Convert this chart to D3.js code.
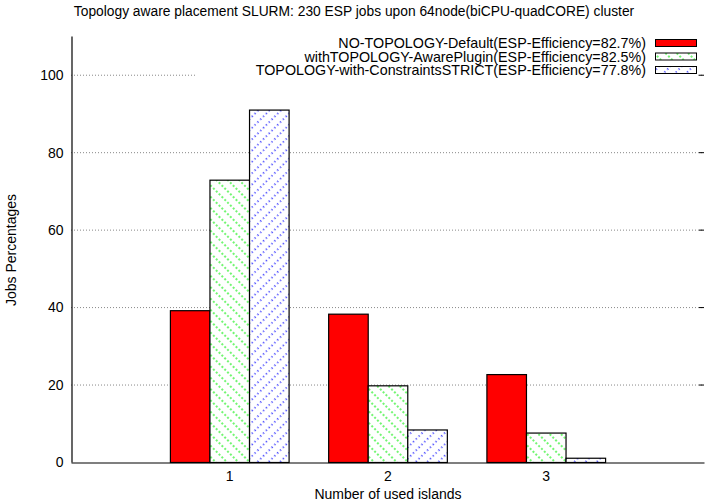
<!DOCTYPE html>
<html>
<head>
<meta charset="utf-8">
<script src="https://cdn.jsdelivr.net/npm/d3@7"></script>
<style>
  body { margin: 0; background: #fff; }
  text { font-family: "Liberation Sans", Arial, sans-serif; fill: #000; }
</style>
</head>
<body>
<div id="chart"></div>
<script>
const islands = [1, 2, 3];
const seriesNames = [
    "NO-TOPOLOGY-Default(ESP-Efficiency=82.7%)",
    "withTOPOLOGY-AwarePlugin(ESP-Efficiency=82.5%)",
    "TOPOLOGY-with-ConstraintsSTRICT(ESP-Efficiency=77.8%)"
];
const noTopology = [39.2, 38.3, 22.7];
const awarePlugin = [72.9, 19.8, 7.6];
const strictConstraints = [91.0, 8.4, 1.1];
const yTicks = [0, 20, 40, 60, 80, 100];

const series = [noTopology, awarePlugin, strictConstraints];
const fills = ["#ff0000", "url(#hatchGreen)", "url(#hatchBlue)"];

const W = 706, H = 503;
const margin = {top: 36, right: 2, bottom: 41, left: 71};
const width = W - margin.left - margin.right;
const height = H - margin.top - margin.bottom;

const svg = d3.select("#chart").append("svg")
    .attr("width", W)
    .attr("height", H);

// hatch patterns like gnuplot fill patterns
const defs = svg.append("defs");
const pg = defs.append("pattern")
    .attr("id", "hatchGreen")
    .attr("patternUnits", "userSpaceOnUse")
    .attr("width", 8).attr("height", 8)
    .attr("patternTransform", "rotate(-45)");
pg.append("rect").attr("width", 8).attr("height", 8).attr("fill", "#fff");
pg.append("line")
    .attr("x1", 1).attr("y1", 0).attr("x2", 1).attr("y2", 8)
    .attr("stroke", "#00ee00").attr("stroke-width", 1.1)
    .attr("stroke-dasharray", "2,2");

const pb = defs.append("pattern")
    .attr("id", "hatchBlue")
    .attr("patternUnits", "userSpaceOnUse")
    .attr("width", 8).attr("height", 8)
    .attr("patternTransform", "rotate(45)");
pb.append("rect").attr("width", 8).attr("height", 8).attr("fill", "#fff");
pb.append("line")
    .attr("x1", 1).attr("y1", 0).attr("x2", 1).attr("y2", 8)
    .attr("stroke", "#0000ff").attr("stroke-width", 1.3)
    .attr("stroke-dasharray", "1.3,2.7");

const g = svg.append("g")
    .attr("transform", "translate(" + margin.left + "," + margin.top + ")");

const x = d3.scaleLinear().domain([0, 4]).range([0, width]);
const y = d3.scaleLinear().domain([0, 110]).range([height, 0]);

// grid
g.append("g")
    .selectAll("line")
    .data(yTicks.filter(d => d > 0))
    .join("line")
    .attr("x1", 0).attr("x2", width)
    .attr("y1", d => y(d) + 0.5).attr("y2", d => y(d) + 0.5)
    .attr("stroke", "#888")
    .attr("stroke-dasharray", "1,2");

// bars
const barW = 0.25;
series.forEach((vals, s) => {
    g.append("g")
        .selectAll("rect")
        .data(vals)
        .join("rect")
        .attr("x", (d, i) => x(islands[i] + (s - 1.5) * barW) + 0.5)
        .attr("width", x(barW) - x(0))
        .attr("y", d => y(d) + 0.5)
        .attr("height", d => y(0) - y(d))
        .attr("fill", fills[s])
        .attr("stroke", "#000")
        .attr("stroke-width", 1.2);
});

// y axis
const yAxis = g.append("g")
    .attr("transform", "translate(0.5,0)")
    .call(d3.axisLeft(y).tickValues(yTicks).tickSize(0).tickPadding(8));
yAxis.select(".domain").attr("stroke", "#000").attr("stroke-width", 1.2);
yAxis.selectAll("text").style("font-size", "14px")
    .attr("dy", "0.35em");

// mirror ticks
g.append("g")
    .selectAll("line")
    .data(yTicks.filter(d => d > 0))
    .join("line")
    .attr("x1", width - 5).attr("x2", width)
    .attr("y1", d => y(d) + 0.5).attr("y2", d => y(d) + 0.5)
    .attr("stroke", "#000");

// x axis
const xAxis = g.append("g")
    .attr("transform", "translate(0," + (height + 0.5) + ")")
    .call(d3.axisBottom(x).tickValues(islands).tickFormat(d3.format("d")).tickSize(0).tickPadding(9));
xAxis.select(".domain").attr("stroke", "#000").attr("stroke-width", 1.2);
xAxis.selectAll("text").style("font-size", "14px");

// legend
const legend = svg.append("g");
legend.append("rect")
    .attr("x", 197).attr("y", 35).attr("width", 501).attr("height", 43)
    .attr("fill", "#fff");
seriesNames.forEach((name, s) => {
    const cy = 43 + s * 13.5;
    legend.append("text")
        .attr("x", 646).attr("y", cy)
        .attr("dy", "0.35em")
        .attr("text-anchor", "end")
        .style("font-size", "14.3px")
        .text(name);
    legend.append("rect")
        .attr("x", 655.5).attr("y", cy - 3.5)
        .attr("width", 41).attr("height", 7)
        .attr("fill", fills[s])
        .attr("stroke", "#000");
});

// titles
svg.append("text")
    .attr("x", 354).attr("y", 16)
    .attr("text-anchor", "middle")
    .style("font-size", "13.8px")
    .text("Topology aware placement SLURM: 230 ESP jobs upon 64node(biCPU-quadCORE) cluster");

svg.append("text")
    .attr("x", 388).attr("y", 499)
    .attr("text-anchor", "middle")
    .style("font-size", "14px")
    .text("Number of used islands");

svg.append("text")
    .attr("transform", "translate(16,250) rotate(-90)")
    .attr("text-anchor", "middle")
    .style("font-size", "14px")
    .text("Jobs Percentages");
</script>
</body>
</html>
